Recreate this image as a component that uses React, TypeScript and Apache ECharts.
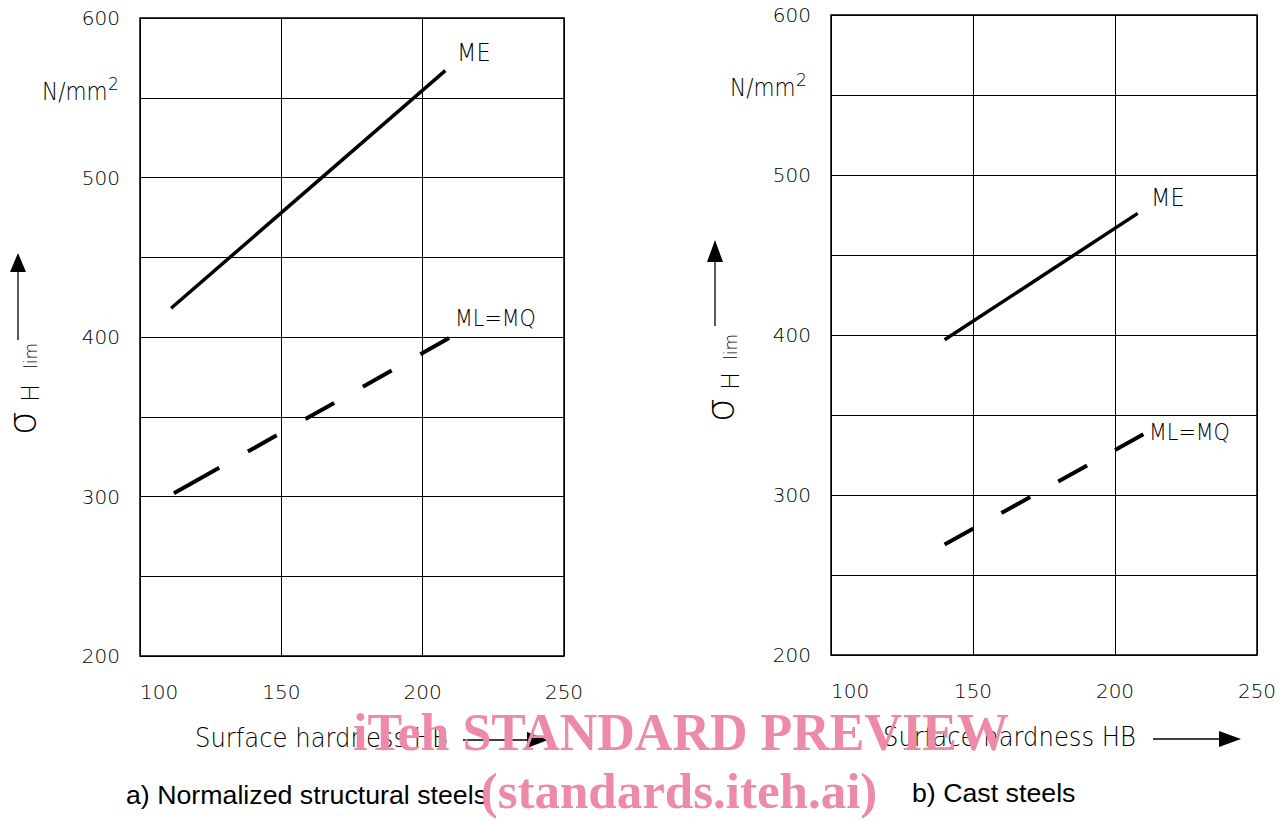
import React, { useEffect, useRef } from "react";
import * as echarts from "echarts";

// ---- data ----
const hbTicks = [100, 150, 200, 250];
const sigmaTicks = [200, 300, 400, 500, 600];
const gridStepHB = 50;
const gridStepSigma = 50;

const meNormalized = [
  [111, 418],
  [208, 567],
];
const mlmqNormalized = [
  [112, 302],
  [210, 400],
];
const meCast = [
  [140, 397],
  [208, 476],
];
const mlmqCast = [
  [140, 269],
  [210, 338],
];

const seriesNames = ["ME", "ML=MQ"];
const panelCaptions = ["a) Normalized structural steels", "b) Cast steels"];
const xTitle = "Surface hardness HB";
const unitText = "N/mm";
const unitSup = "2";
const watermark = ["iTeh STANDARD PREVIEW", "(standards.iteh.ai)"];

const DIG = '"DejaVu Sans", sans-serif';
const HELV = '"Liberation Sans", Arial, sans-serif';
const INK = "#000";

function makeAxes(i: number) {
  const x = {
    gridIndex: i,
    type: "value",
    min: hbTicks[0],
    max: hbTicks[hbTicks.length - 1],
    interval: gridStepHB,
    axisLine: { show: false },
    axisTick: { show: false },
    splitLine: { show: true, lineStyle: { color: "#000", width: 1 } },
    axisLabel: {
      margin: 26,
      fontSize: 20,
      fontFamily: DIG,
      fontWeight: 200,
      color: INK,
      alignMinLabel: "left",
    },
  };
  const y = {
    gridIndex: i,
    type: "value",
    min: sigmaTicks[0],
    max: sigmaTicks[sigmaTicks.length - 1],
    interval: gridStepSigma,
    axisLine: { show: false },
    axisTick: { show: false },
    splitLine: { show: true, lineStyle: { color: "#000", width: 1 } },
    axisLabel: {
      margin: 20,
      fontSize: 20,
      fontFamily: DIG,
      fontWeight: 200,
      color: INK,
      formatter: (v: number) => (sigmaTicks.includes(v) ? String(v) : ""),
    },
  };
  return { x, y };
}

function solid(data: number[][], i: number, name: string) {
  return {
    type: "line",
    name,
    xAxisIndex: i,
    yAxisIndex: i,
    data,
    symbol: "none",
    silent: true,
    lineStyle: { color: "#000", width: 3.5, cap: "butt" },
  };
}
function dashed(data: number[][], i: number, name: string, dash: number[]) {
  return {
    type: "line",
    name,
    xAxisIndex: i,
    yAxisIndex: i,
    data,
    symbol: "none",
    silent: true,
    lineStyle: { color: "#000", width: 4, type: dash, cap: "butt" },
  };
}

function cadText(x: number, y: number, text: string, size: number, sx = 0.9) {
  return {
    type: "text",
    x,
    y,
    scaleX: sx,
    silent: true,
    style: {
      text,
      fill: INK,
      font: `200 ${size}px ${DIG}`,
      align: "left",
      verticalAlign: "middle",
    },
  };
}

function yTitle(sx: number, sy: number, hX: number, hY: number, limY: number) {
  return [
    {
      type: "text",
      x: sx,
      y: sy,
      rotation: Math.PI / 2,
      silent: true,
      style: {
        text: "σ",
        fill: INK,
        font: `200 38px ${DIG}`,
        lineHeight: 26,
        align: "center",
        verticalAlign: "middle",
      },
    },
    {
      type: "text",
      x: hX,
      y: hY,
      rotation: Math.PI / 2,
      silent: true,
      style: { text: "H", fill: INK, font: `200 24px ${DIG}`, align: "center", verticalAlign: "middle" },
    },
    {
      type: "text",
      x: hX,
      y: limY,
      rotation: Math.PI / 2,
      silent: true,
      style: { text: "lim", fill: INK, font: `200 17px ${DIG}`, align: "center", verticalAlign: "middle" },
    },
  ];
}

function upArrow(x: number, bottom: number, tip: number, headLen: number, headHalf: number) {
  return [
    {
      type: "line",
      silent: true,
      shape: { x1: x, y1: bottom, x2: x, y2: tip + headLen },
      style: { stroke: "#000", lineWidth: 1.3 },
    },
    {
      type: "polygon",
      silent: true,
      shape: { points: [[x, tip], [x - headHalf, tip + headLen], [x + headHalf, tip + headLen]] },
      style: { fill: "#000" },
    },
  ];
}

function rightArrow(x1: number, tipX: number, y: number, headLen: number, headHalf: number) {
  return [
    {
      type: "line",
      silent: true,
      shape: { x1, y1: y, x2: tipX - headLen, y2: y },
      style: { stroke: "#000", lineWidth: 1.3 },
    },
    {
      type: "polygon",
      silent: true,
      shape: { points: [[tipX, y], [tipX - headLen, y - headHalf], [tipX - headLen, y + headHalf]] },
      style: { fill: "#000" },
    },
  ];
}

export default function App() {
  const ref = useRef<HTMLDivElement>(null);

  useEffect(() => {
    if (!ref.current) return;
    const chart = echarts.init(ref.current, undefined, { renderer: "svg" });
    const a0 = makeAxes(0);
    const a1 = makeAxes(1);

    const graphic: any[] = [
      // unit labels
      cadText(42, 92, unitText, 24),
      cadText(108, 84, unitSup, 17, 1),
      cadText(730, 88, unitText, 24),
      cadText(796, 80, unitSup, 17, 1),
      // series labels
      cadText(457, 53, seriesNames[0], 25),
      cadText(455, 318, seriesNames[1], 23),
      cadText(1151, 198, seriesNames[0], 25),
      cadText(1149, 432, seriesNames[1], 23),
      // y titles
      ...yTitle(22, 423, 31, 393, 356),
      ...yTitle(720, 410, 731, 381, 347),
      ...upArrow(18, 340, 253, 19, 8),
      ...upArrow(715, 326, 240, 22, 8),
      // x titles
      cadText(195, 738, xTitle, 27),
      cadText(883, 737, xTitle, 27),
      ...rightArrow(463, 548, 740, 21, 8),
      ...rightArrow(1153, 1241, 739, 22, 8),
      // captions
      {
        type: "text",
        x: 126,
        y: 795,
        scaleX: 1.07,
        silent: true,
        style: { text: panelCaptions[0], fill: "#000", font: `25px ${HELV}`, align: "left", verticalAlign: "middle" },
      },
      {
        type: "text",
        x: 912,
        y: 793,
        scaleX: 1.07,
        silent: true,
        style: { text: panelCaptions[1], fill: "#000", font: `25px ${HELV}`, align: "left", verticalAlign: "middle" },
      },
      // watermark
      {
        type: "text",
        x: 681,
        y: 732,
        z: 100,
        silent: true,
        style: {
          text: watermark[0],
          fill: "#EC8AA8",
          font: `bold 52px "Liberation Serif", "Times New Roman", serif`,
          align: "center",
          verticalAlign: "middle",
        },
      },
      {
        type: "text",
        x: 679,
        y: 791,
        z: 100,
        silent: true,
        style: {
          text: watermark[1],
          fill: "#EC8AA8",
          font: `bold 51px "Liberation Serif", "Times New Roman", serif`,
          align: "center",
          verticalAlign: "middle",
        },
      },
    ];

    chart.setOption({
      animation: false,
      backgroundColor: "#fff",
      grid: [
        { left: 140, top: 18, width: 424, height: 638, show: true, borderColor: "#000", borderWidth: 1.5 },
        { left: 831, top: 15, width: 426, height: 640, show: true, borderColor: "#000", borderWidth: 1.5 },
      ],
      xAxis: [a0.x, a1.x],
      yAxis: [a0.y, a1.y],
      series: [
        solid(meNormalized, 0, seriesNames[0]),
        dashed(mlmqNormalized, 0, seriesNames[1], [52, 33, 33, 33, 33, 33, 33, 33, 33, 33, 40, 40]),
        solid(meCast, 1, seriesNames[0]),
        dashed(mlmqCast, 1, seriesNames[1], [33, 32]),
      ],
      graphic,
    });
    return () => chart.dispose();
  }, []);

  return (
    <div
      ref={ref}
      style={{ position: "fixed", left: 0, top: 0, width: 1287, height: 822, background: "#fff" }}
    />
  );
}
